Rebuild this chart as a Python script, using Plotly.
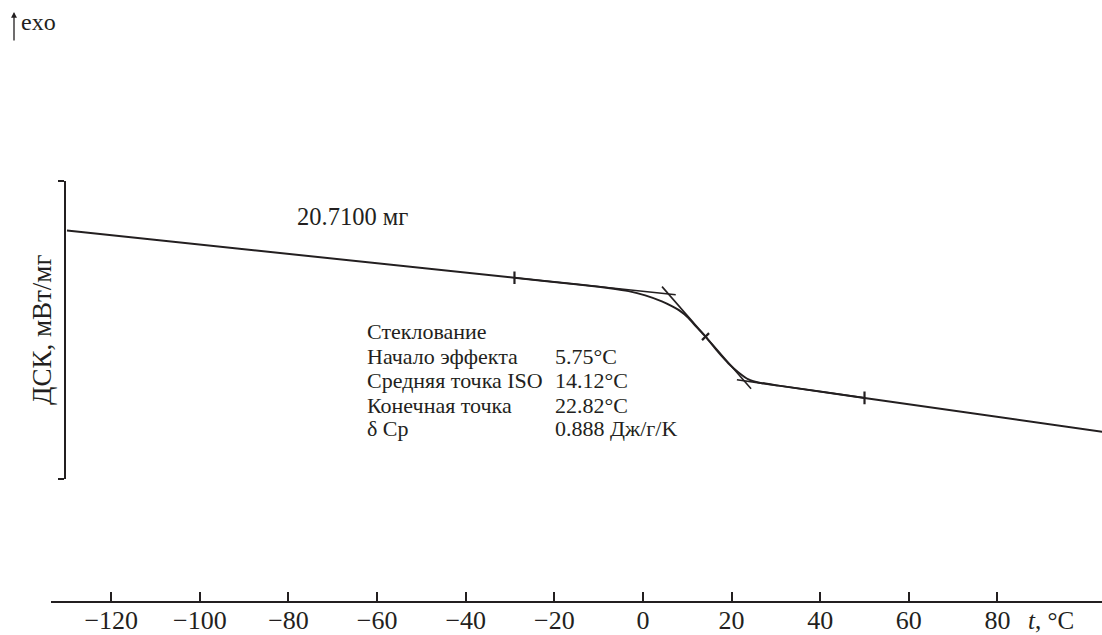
import plotly.graph_objects as go

INK = "#231f20"
FONT = "Times New Roman, Liberation Serif, DejaVu Serif, serif"
W, H = 1102, 635

# DSC heating trace: temperature (°C) and heat flow (mW/mg)
temp = [-130, -29, -14.55, -7.03, -3.26, 0.51, 4.26, 6.51, 8.03, 10.28, 11.79,
        14.12, 17.05, 19.31, 21.57, 23.83, 26.08, 30.6, 50, 104]
dsc = [0.2005, 0.1053, 0.0920, 0.0840, 0.0785, 0.0699, 0.0578, 0.0483, 0.0407,
       0.0246, 0.0091, -0.0130, -0.0449, -0.0670, -0.0851, -0.0992, -0.1053,
       -0.1116, -0.1363, -0.2050]

# Glass-transition analysis: baseline tangents and inflection tangent
onset_tan_t = [-29, 7.4]
onset_tan_y = [0.1053, 0.0712]
end_tan_t = [21.2, 50]
end_tan_y = [-0.0997, -0.1363]
infl_tan_t = [4.3, 24.4]
infl_tan_y = [0.0876, -0.1179]

# Baseline limit marks and ISO midpoint
limit_t = [-29, 50]
limit_y = [0.1053, -0.1363]
mid_t = [14.12]
mid_y = [-0.0130]

x_ticks = [-120, -100, -80, -60, -40, -20, 0, 20, 40, 60, 80]
x_range = [-133.6, 103.6]
y_range = [-0.3, 0.3]

sample_label = "20.7100 мг"
result_rows = [
    ("Стеклование", ""),
    ("Начало эффекта", "5.75°C"),
    ("Средняя точка ISO", "14.12°C"),
    ("Конечная точка", "22.82°C"),
    ("δ Cp", "0.888 Дж/г/K"),
]

fig = go.Figure()
fig.add_trace(go.Scatter(x=temp, y=dsc, mode="lines",
                         line=dict(color=INK, width=2, shape="spline",
                                   smoothing=0.6),
                         hoverinfo="skip"))
for tx, ty in [(onset_tan_t, onset_tan_y), (end_tan_t, end_tan_y),
               (infl_tan_t, infl_tan_y)]:
    fig.add_trace(go.Scatter(x=tx, y=ty, mode="lines",
                             line=dict(color=INK, width=1.6), hoverinfo="skip"))
fig.add_trace(go.Scatter(x=limit_t, y=limit_y, mode="markers",
                         marker=dict(symbol="line-ns", size=9,
                                     line=dict(color=INK, width=2.2)),
                         hoverinfo="skip"))
fig.add_trace(go.Scatter(x=mid_t, y=mid_y, mode="markers",
                         marker=dict(symbol="line-ne", size=7,
                                     line=dict(color=INK, width=2.2)),
                         hoverinfo="skip"))


def px(x):
    return x / W


def py(y):
    return 1 - y / H


ann = []
# exo direction arrow
ann.append(dict(x=px(14), y=py(12), xref="paper", yref="paper", text="",
                showarrow=True, ax=0, ay=30, arrowhead=2, arrowsize=0.9,
                arrowwidth=1.3, arrowcolor=INK))
ann.append(dict(x=px(19), y=py(22), xref="paper", yref="paper", text="exo",
                showarrow=False, xanchor="left", yanchor="middle",
                font=dict(family=FONT, size=24, color=INK)))
ann.append(dict(x=px(295), y=py(217), xref="paper", yref="paper",
                text=sample_label, showarrow=False, xanchor="left",
                yanchor="middle", font=dict(family=FONT, size=24.5, color=INK)))
row_y = [331.7, 356.7, 380.7, 405, 428.3]
for (name, val), yy in zip(result_rows, row_y):
    ann.append(dict(x=px(365), y=py(yy), xref="paper", yref="paper", text=name,
                    showarrow=False, xanchor="left", yanchor="middle",
                    font=dict(family=FONT, size=22, color=INK)))
    if val:
        ann.append(dict(x=px(553), y=py(yy), xref="paper", yref="paper",
                        text=val, showarrow=False, xanchor="left",
                        yanchor="middle",
                        font=dict(family=FONT, size=22, color=INK)))
# axis titles
ann.append(dict(x=px(1051), y=py(620), xref="paper", yref="paper",
                text="<i>t</i>, °C", showarrow=False, xanchor="center",
                yanchor="middle", font=dict(family=FONT, size=25, color=INK)))
ann.append(dict(x=px(42), y=py(330), xref="paper", yref="paper",
                text="ДСК, мВт/мг", showarrow=False, textangle=-90,
                xanchor="center", yanchor="middle",
                font=dict(family=FONT, size=27, color=INK)))

fig.update_layout(
    width=W, height=H,
    margin=dict(l=0, r=0, t=0, b=0),
    paper_bgcolor="white", plot_bgcolor="white",
    showlegend=False,
    annotations=ann,
    xaxis=dict(
        domain=[px(51), 1], range=x_range, anchor="free", position=py(602),
        showline=True, linecolor=INK, linewidth=2,
        tickmode="array", tickvals=x_ticks,
        ticks="inside", ticklen=9, tickwidth=1.6, tickcolor=INK,
        tickfont=dict(family=FONT, size=26, color=INK),
        ticklabelstandoff=-5,
        showgrid=False, zeroline=False, automargin=False,
    ),
    yaxis=dict(
        domain=[py(479.3), py(181)], range=y_range, anchor="free",
        position=px(65),
        showline=True, linecolor=INK, linewidth=1.8,
        tickmode="array", tickvals=y_range,
        ticks="outside", ticklen=6, tickwidth=1.8, tickcolor=INK,
        showticklabels=False,
        showgrid=False, zeroline=False, automargin=False,
    ),
)

fig.write_html("out.html")
